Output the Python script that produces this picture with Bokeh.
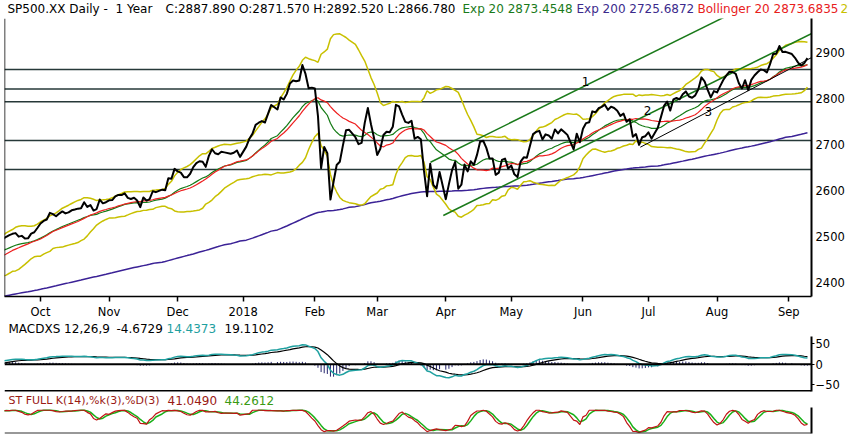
import numpy as np
import pandas as pd
from bokeh.plotting import figure
from bokeh.models import Range1d, LinearAxis, FixedTicker, Span, ColumnDataSource
from bokeh.layouts import column
from bokeh.embed import file_html
from bokeh.resources import INLINE
from bokeh.core.properties import value

FONT = "DejaVu Sans"

# ---------------- data (daily closes) ----------------
close_2017_08 = [2476.35, 2477.57, 2472.16, 2476.83, 2480.91, 2474.92, 2474.02, 2438.21, 2441.32, 2465.84,
                 2464.61, 2468.11, 2430.01, 2425.55, 2428.37, 2452.51, 2444.04, 2438.97, 2443.05, 2444.24,
                 2446.30, 2457.59, 2471.65]
close_2017_09 = [2476.55, 2457.85, 2465.54, 2465.10, 2461.43, 2488.11, 2496.48, 2498.37, 2495.62, 2500.23,
                 2503.87, 2506.65, 2508.24, 2500.60, 2502.22, 2496.66, 2496.84, 2507.04, 2510.06, 2519.36]
close_2017_10 = [2529.12, 2534.58, 2537.74, 2552.07, 2549.33, 2544.73, 2550.64, 2555.24, 2550.93, 2553.17,
                 2557.64, 2559.36, 2561.26, 2562.10, 2575.21, 2564.98, 2569.13, 2557.15, 2560.40, 2581.07,
                 2572.83, 2575.26]
close_2017_11 = [2579.36, 2579.85, 2587.84, 2591.13, 2590.64, 2594.38, 2584.62, 2582.30, 2584.84, 2578.87,
                 2564.62, 2585.64, 2578.85, 2582.14, 2599.03, 2597.08, 2602.42, 2601.42, 2627.04, 2626.07,
                 2647.58]
close_2017_12 = [2642.22, 2639.44, 2629.57, 2629.27, 2636.98, 2651.50, 2659.99, 2664.11, 2662.85, 2652.01,
                 2675.81, 2690.16, 2681.47, 2679.25, 2684.57, 2683.34, 2680.50, 2682.62, 2687.54, 2673.61]
close_2018_01 = [2695.81, 2713.06, 2723.99, 2743.15, 2747.71, 2751.29, 2748.23, 2767.56, 2786.24, 2776.42,
                 2802.56, 2798.03, 2810.30, 2832.97, 2839.13, 2837.54, 2839.25, 2872.87, 2853.53, 2822.43,
                 2823.81]
close_2018_02 = [2821.98, 2762.13, 2648.94, 2695.14, 2681.66, 2581.00, 2619.55, 2656.00, 2662.94, 2698.63,
                 2731.20, 2732.22, 2716.26, 2701.33, 2703.96, 2747.30, 2779.60, 2744.28, 2713.83]
close_2018_03 = [2677.67, 2691.25, 2720.94, 2728.12, 2726.80, 2738.97, 2786.57, 2783.02, 2765.31, 2749.48,
                 2747.33, 2752.01, 2712.92, 2716.94, 2711.93, 2643.69, 2588.26, 2658.55, 2612.62, 2605.00,
                 2640.87]
close_2018_04 = [2581.88, 2614.45, 2644.69, 2662.84, 2604.47, 2613.16, 2656.87, 2642.19, 2663.99, 2656.30,
                 2677.84, 2706.39, 2708.64, 2693.13, 2670.14, 2670.29, 2634.56, 2639.40, 2666.94, 2669.91,
                 2648.05]
close_2018_05 = [2654.80, 2635.67, 2629.73, 2663.42, 2672.63, 2671.92, 2697.79, 2723.07, 2727.72, 2730.13,
                 2711.45, 2722.46, 2720.13, 2712.97, 2733.01, 2724.44, 2733.29, 2727.76, 2721.33, 2689.86,
                 2724.01, 2705.27]
close_2018_06 = [2734.62, 2746.87, 2748.80, 2772.35, 2770.37, 2779.03, 2782.00, 2786.85, 2775.63, 2782.49,
                 2779.66, 2773.75, 2762.59, 2767.32, 2749.76, 2754.88, 2717.07, 2723.06, 2699.63, 2716.31,
                 2718.37]
close_2018_07 = [2726.71, 2713.22, 2736.61, 2759.82, 2784.17, 2793.84, 2774.02, 2798.29, 2801.31, 2798.43,
                 2809.55, 2815.62, 2804.49, 2801.83, 2806.98, 2820.40, 2846.07, 2837.44, 2818.82, 2802.60,
                 2816.29]
close_2018_08 = [2813.36, 2827.22, 2840.35, 2850.40, 2858.45, 2857.70, 2853.58, 2833.28, 2821.93, 2839.96,
                 2818.37, 2840.69, 2850.13, 2857.05, 2862.96, 2861.82, 2856.98, 2874.69, 2896.74, 2897.52,
                 2914.04, 2901.13, 2901.52]
close_2018_09 = [2896.72, 2888.60, 2878.05, 2871.68, 2877.13, 2887.89]

holidays = ["2017-09-04", "2017-11-23", "2017-12-25", "2018-01-01", "2018-01-15",
            "2018-02-19", "2018-03-30", "2018-05-28", "2018-07-04", "2018-09-03"]

first_visible = "2017-09-14"
ema200_first = 2371.0          # Exp 200 value read at the left edge

month_ticks = [0, 22, 44, 65, 88, 108, 130, 151, 174, 195, 217, 240]   # weekdays after 2017-10-02
month_labels = ["Oct", "Nov", "Dec", "2018", "Feb", "Mar", "Apr", "May", "Jun", "Jul", "Aug", "Sep"]
price_ticks = [2400, 2500, 2600, 2700, 2800, 2900]
macd_ticks = [-50, 0, 50]
levels = [2863, 2821, 2793, 2709, 2646]

trend_day0 = [125.1, 129.2, 192.4]
trend_px0 = [2662.0, 2546.4, 2694.6]
trend_day1 = [248.0, 248.0, 247.6]
trend_px1 = [3072.6, 2943.3, 2890.0]
trend_names = ["1", "2", "3"]
trend_label_day = [174.8, 194.7, 214.2]
trend_label_px = [2837.0, 2774.0, 2772.0]

header_texts = ["SP500.XX Daily -", "1 Year", "C:2887.890 O:2871.570 H:2892.520 L:2866.780",
                "Exp 20 2873.4548", "Exp 200 2725.6872", "Bollinger 20 2873.6835", "2"]
macd_texts = ["MACDXS 12,26,9", "-4.6729", "14.4373", "19.1102"]
stoch_texts = ["ST FULL K(14),%k(3),%D(3)", "41.0490", "44.2612"]

# ---------------- derived series ----------------
close = np.array(close_2017_08 + close_2017_09 + close_2017_10 + close_2017_11 + close_2017_12 +
                 close_2018_01 + close_2018_02 + close_2018_03 + close_2018_04 + close_2018_05 +
                 close_2018_06 + close_2018_07 + close_2018_08 + close_2018_09, dtype=float)
dates = pd.bdate_range("2017-08-01", "2018-09-11", freq="C", holidays=holidays)
n = min(len(dates), len(close))
dates = dates[:n]
close = close[:n]
dd = dates.values.astype("datetime64[D]")
day = np.busday_count(np.datetime64("2017-10-02"), dd).astype(float)

s = pd.Series(close)
ema20 = s.ewm(span=20, adjust=False).mean().values
sma20 = s.rolling(20).mean()
sd20 = s.rolling(20).std(ddof=0)
upper = (sma20 + 2 * sd20).values
lower = (sma20 - 2 * sd20).values
sma20 = sma20.values
macd = (s.ewm(span=12, adjust=False).mean() - s.ewm(span=26, adjust=False).mean())
signal = macd.ewm(span=9, adjust=False).mean()
hist = (macd - signal).values
macd = macd.values
signal = signal.values
ll = s.rolling(14).min()
hh = s.rolling(14).max()
rawk = (s - ll) / (hh - ll) * 100.0
stk = rawk.rolling(3).mean()
std_ = stk.rolling(3).mean().values
stk = stk.values

i0 = int(np.searchsorted(dd, np.datetime64(first_visible)))
ema200 = np.full(n, np.nan)
ema200[i0] = ema200_first
a = 2.0 / 201.0
for i in range(i0 + 1, n):
    ema200[i] = ema200[i - 1] + a * (close[i] - ema200[i - 1])

vis = np.arange(n) >= i0
src = ColumnDataSource(dict(day=day[vis], close=close[vis], ema20=ema20[vis], sma20=sma20[vis],
                            upper=upper[vis], lower=lower[vis], ema200=ema200[vis],
                            macd=macd[vis], signal=signal[vis], hist=hist[vis],
                            k=stk[vis], d=std_[vis]))

# ---------------- layout ----------------
TOTAL_W = 849
FL, FW = 4, 807
FR = TOTAL_W - FL - FW
xr = Range1d(-11.55, 247.3)


def base(h, yr, top, bottom):
    p = figure(frame_width=FW, frame_height=h, x_range=xr, y_range=yr,
               output_backend="svg", toolbar_location=None,
               x_axis_location=None, y_axis_location=None,
               min_border_left=FL, min_border_right=FR, min_border_top=top, min_border_bottom=bottom)
    p.outline_line_color = None
    p.xgrid.visible = False
    p.ygrid.visible = False
    p.background_fill_color = "white"
    p.border_fill_color = "white"
    return p


def title_fig(h, xs, y, texts, colors, sizes):
    p = figure(frame_width=TOTAL_W, frame_height=h, x_range=Range1d(0, TOTAL_W), y_range=Range1d(h, 0),
               output_backend="svg", toolbar_location=None,
               x_axis_location=None, y_axis_location=None,
               min_border_left=0, min_border_right=0, min_border_top=0, min_border_bottom=0)
    p.outline_line_color = None
    p.xgrid.visible = False
    p.ygrid.visible = False
    p.background_fill_color = "white"
    p.border_fill_color = "white"
    ts = ColumnDataSource(dict(x=xs, y=[y] * len(xs), text=texts, color=colors, size=sizes))
    p.text(x="x", y="y", text="text", source=ts, text_color="color", text_font_size="size",
           text_font=value(FONT), text_baseline="middle", text_align="left")
    return p


def right_axis(p, ticks, tick_out=0):
    ax = LinearAxis(ticker=FixedTicker(ticks=ticks))
    ax.axis_line_color = "black"
    ax.axis_line_width = 2
    ax.major_tick_out = tick_out
    ax.major_tick_in = 0
    ax.major_tick_line_color = "black" if tick_out else None
    ax.minor_tick_line_color = None
    ax.major_label_standoff = 4 - tick_out if tick_out else 4
    ax.major_label_text_font = FONT
    ax.major_label_text_font_size = "11.5px"
    ax.major_label_text_color = "black"
    p.add_layout(ax, "right")
    return ax


# header
h1 = title_fig(18, [3, 111, 161, 458, 572, 693, 836], 8, header_texts,
               ["black", "black", "black", "#1a7a1a", "#3b2a8c", "#e8201c", "#c8c000"],
               ["12px"] * 7)

# main price panel
p1 = base(278, Range1d(2370.7, 2973.8), 0, 22)
xa = LinearAxis(ticker=FixedTicker(ticks=month_ticks),
                major_label_overrides={t: l for t, l in zip(month_ticks, month_labels)})
xa.axis_line_color = "black"
xa.axis_line_width = 1.5
xa.major_tick_out = 5
xa.major_tick_in = 0
xa.major_tick_line_width = 1.5
xa.major_tick_line_color = "black"
xa.minor_tick_line_color = None
xa.major_label_standoff = 3
xa.major_label_text_font = FONT
xa.major_label_text_font_size = "11.5px"
xa.major_label_text_color = "black"
p1.add_layout(xa, "below")
right_axis(p1, price_ticks)

p1.add_layout(Span(location=xr.start, dimension="height", line_color="black", line_width=1.5))
for lv in levels:
    p1.add_layout(Span(location=lv, dimension="width", line_color="#263838", line_width=1.5,
                       level="underlay"))

p1.line("day", "ema200", source=src, line_color="#3b2296", line_width=1.5)
p1.line("day", "upper", source=src, line_color="#c8c000", line_width=1.5)
p1.line("day", "lower", source=src, line_color="#c8c000", line_width=1.5)
p1.line("day", "ema20", source=src, line_color="#147a14", line_width=1.2)
p1.line("day", "sma20", source=src, line_color="#ee2020", line_width=1.2)
p1.segment(x0=trend_day0[:2], y0=trend_px0[:2], x1=trend_day1[:2], y1=trend_px1[:2],
           line_color="#1a7a1a", line_width=1.5)
p1.segment(x0=trend_day0[2:], y0=trend_px0[2:], x1=trend_day1[2:], y1=trend_px1[2:],
           line_color="black", line_width=1)
p1.line("day", "close", source=src, line_color="black", line_width=2, line_join="round")
p1.text(x=trend_label_day, y=trend_label_px, text=trend_names, text_font=value(FONT),
        text_font_size="12px", text_color="black", text_align="center", text_baseline="middle")

# MACD title + panel
h2 = title_fig(15, [4, 112, 162, 220], 7, macd_texts,
               ["black", "black", "#1fa0a0", "black"], ["12px"] * 4)
p2 = base(55, Range1d(-66.9, 68.0), 0, 1)
right_axis(p2, macd_ticks, tick_out=3)
p2.segment(x0="day", y0=0, x1="day", y1="hist", source=src, line_color="#24246e", line_width=1)
p2.add_layout(Span(location=0, dimension="width", line_color="black", line_width=2))
p2.add_layout(Span(location=-66.9, dimension="width", line_color="black", line_width=3))
p2.line("day", "signal", source=src, line_color="black", line_width=1.2)
p2.line("day", "macd", source=src, line_color="#1fa0a0", line_width=1.5)

# Stochastic title + panel
h3 = title_fig(15, [4, 163, 220], 8, stoch_texts,
               ["#9a1a14", "#9a1a14", "#3a9a14"], ["11px", "12px", "12px"])
p3 = base(26, Range1d(-1, 112), 0, 3)
right_axis(p3, [])
p3.add_layout(Span(location=-1, dimension="width", line_color="#333333", line_width=2))
p3.line("day", "d", source=src, line_color="#18b018", line_width=1.5)
p3.line("day", "k", source=src, line_color="#c01414", line_width=1.2)

layout = column(h1, p1, h2, p2, h3, p3)
open("out.html", "w").write(file_html(layout, INLINE))
